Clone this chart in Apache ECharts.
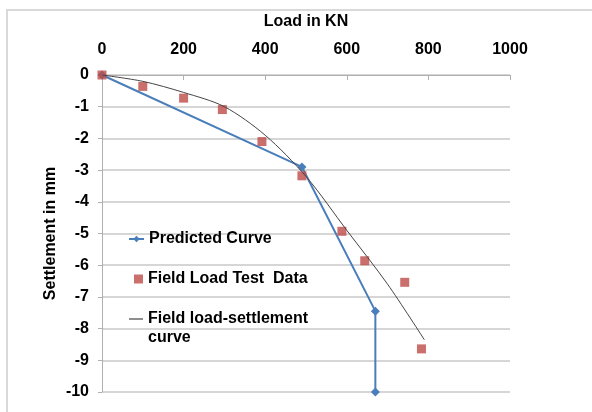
<!DOCTYPE html>
<html>
<head>
<meta charset="utf-8">
<script src="https://cdn.jsdelivr.net/npm/echarts@6/dist/echarts.min.js"></script>
<style>
  html, body { margin: 0; padding: 0; background: #fff; }
  #chart { width: 592px; height: 412px; }
</style>
</head>
<body>
<div id="chart"></div>
<script>
// predicted curve
const predLoad = [0, 490, 670, 670]
const predSettle = [0, -2.9, -7.45, -10]
// field load test points
const testLoad = [0, 100, 200, 295, 392, 490, 588, 644, 742, 783]
const testSettle = [0, -0.36, -0.73, -1.09, -2.1, -3.18, -4.93, -5.86, -6.54, -8.64]
// field load-settlement curve (trend)
const curveLoad = [0, 100, 200, 300, 400, 500, 600, 700, 790]
const curveSettle = [0, -0.2, -0.55, -1.0, -1.9, -3.2, -4.9, -6.6, -8.35]
const xTicks = [0, 200, 400, 600, 800, 1000]

const FONT = "'Liberation Sans', Arial, sans-serif"
const pair = (xs, ys) => xs.map((x, i) => [x, ys[i]])
const txt = { color: '#000', fontWeight: 'bold', fontSize: 16, fontFamily: FONT }

const chart = echarts.init(document.getElementById('chart'))
chart.setOption({
  animation: false,
  graphic: [{
    type: 'rect',
    shape: { x: 7, y: 10, width: 600, height: 420 },
    style: { fill: null, stroke: '#d9d9d9', lineWidth: 2 },
    silent: true
  }, {
    // second line of the trend line's legend entry
    type: 'text',
    left: 148,
    top: 330,
    style: { text: 'curve', fill: '#000', font: 'bold 16px ' + FONT },
    silent: true
  }],
  grid: { left: 102, right: 82, top: 75, bottom: 20 },
  xAxis: {
    type: 'value',
    position: 'top',
    min: 0,
    max: 1000,
    interval: 200,
    name: 'Load in KN',
    nameLocation: 'middle',
    nameGap: 45,
    nameTextStyle: txt,
    axisLine: { onZero: false, lineStyle: { color: '#b0b0b0' } },
    axisTick: { inside: true, length: 5, lineStyle: { color: '#b0b0b0' } },
    axisLabel: Object.assign({ margin: 17, formatter: v => xTicks.indexOf(v) >= 0 ? v : '' }, txt),
    splitLine: { show: false }
  },
  yAxis: {
    type: 'value',
    min: -10,
    max: 0,
    interval: 1,
    name: 'Settlement in mm',
    nameLocation: 'middle',
    nameRotate: 90,
    nameGap: 43,
    nameMoveOverlap: false,
    nameTextStyle: txt,
    axisLine: { show: true, onZero: false, lineStyle: { color: '#b0b0b0' } },
    axisTick: { show: true, length: 4, lineStyle: { color: '#b0b0b0' } },
    axisLabel: Object.assign({ margin: 13 }, txt),
    splitLine: { lineStyle: { color: '#c8c8c8', width: 1.5 } }
  },
  legend: [{
    data: ['Predicted Curve'],
    left: 123, top: 226,
    itemWidth: 15, itemHeight: 8,
    textStyle: txt
  }, {
    data: ['Field Load Test  Data'],
    left: 129, top: 266,
    itemWidth: 9, itemHeight: 9,
    textStyle: txt
  }, {
    data: [{ name: 'Field load-settlement curve', icon: 'rect' }],
    formatter: () => 'Field load-settlement',
    left: 124, top: 306,
    itemWidth: 14, itemHeight: 1.2,
    textStyle: txt
  }],
  series: [{
    name: 'Predicted Curve',
    type: 'line',
    data: pair(predLoad, predSettle),
    symbol: 'diamond',
    symbolSize: 9,
    color: '#4a7ebb',
    lineStyle: { width: 2, color: '#4a7ebb' },
    z: 2
  }, {
    name: 'Field Load Test  Data',
    type: 'scatter',
    data: pair(testLoad, testSettle),
    symbol: 'rect',
    symbolSize: 9,
    color: '#be4b48',
    z: 3
  }, {
    name: 'Field load-settlement curve',
    type: 'line',
    data: pair(curveLoad, curveSettle),
    smooth: 0.3,
    symbol: 'none',
    color: '#444',
    lineStyle: { width: 1, color: '#444' },
    z: 4
  }]
})
</script>
</body>
</html>
